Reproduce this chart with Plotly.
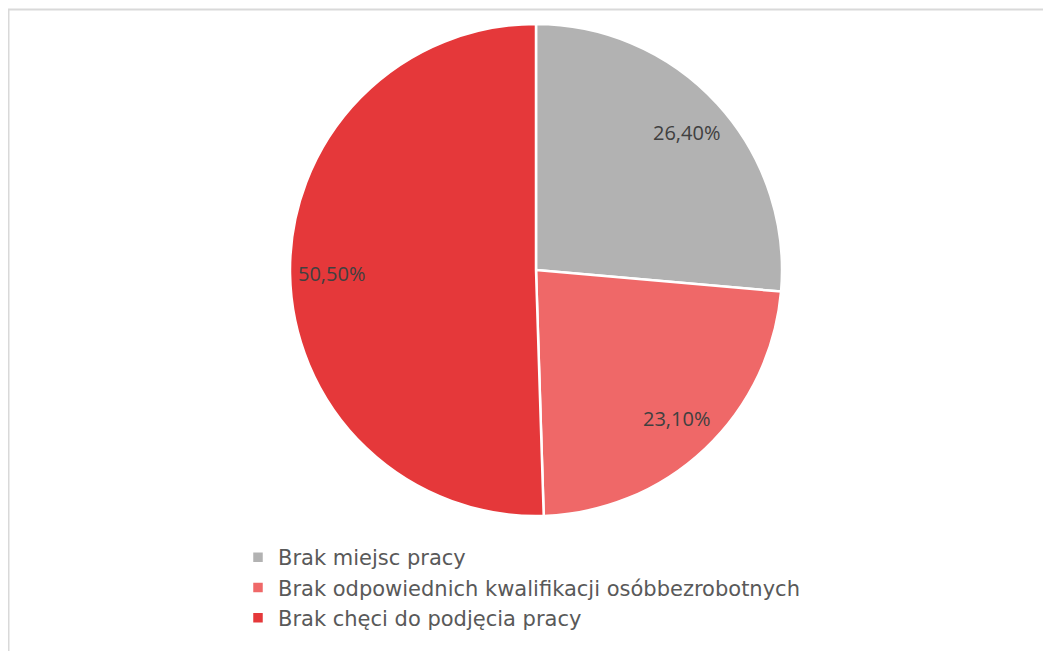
import math
import plotly.graph_objects as go

categories = ["Brak miejsc pracy", "Brak odpowiednich kwalifikacji osóbbezrobotnych", "Brak chęci do podjęcia pracy"]
values = [26.40, 23.10, 50.50]
label_texts = ["26,40%", "23,10%", "50,50%"]
colors = ["#b2b2b2", "#ef6868", "#e5383a"]

W, H = 1051, 651
cx, cy, r = 528, 262, 246  # figure pixel coordinates of the pie

dom_x = [(cx - r) / W, (cx + r) / W]
dom_y = [(H - cy - r) / H, (H - cy + r) / H]

fig = go.Figure(go.Pie(
    labels=categories,
    values=values,
    text=label_texts,
    textinfo="none",
    sort=False,
    direction="clockwise",
    rotation=0,
    marker=dict(colors=colors, line=dict(color="white", width=2.5)),
    hoverinfo="label+text",
    domain=dict(x=dom_x, y=dom_y),
))

# data labels placed near the outer edge (Excel "inside end"-like), derived from the values
total = sum(values)
acc = 0.0
annotations = []
for v, t in zip(values, label_texts):
    mid = (acc + v / 2) / total * 2 * math.pi  # clockwise from 12 o'clock
    acc += v
    px = cx + 0.83 * r * math.sin(mid)
    py = cy - 0.83 * r * math.cos(mid)
    annotations.append(dict(
        x=px / W, y=1 - py / H, xref="paper", yref="paper",
        text=t, showarrow=False, xanchor="center", yanchor="middle",
        font=dict(family="Open Sans", size=20, color="#404040"),
    ))

fig.update_layout(
    width=W, height=H,
    margin=dict(l=0, r=0, t=0, b=0),
    paper_bgcolor="white",
    plot_bgcolor="white",
    showlegend=True,
    legend=dict(
        x=230 / W, y=(H - 529) / H, xanchor="left", yanchor="top",
        orientation="v",
        font=dict(family="DejaVu Sans", size=21, color="#595959"),
        itemwidth=30,
    ),
    annotations=annotations,
    shapes=[dict(
        type="rect", xref="paper", yref="paper",
        x0=0.5 / W, x1=1.02, y0=-0.02, y1=1 - 1.5 / H,
        line=dict(color="#d9d9d9", width=2),
        fillcolor="rgba(0,0,0,0)",
        layer="below",
    )],
)

fig.write_html("out.html")
